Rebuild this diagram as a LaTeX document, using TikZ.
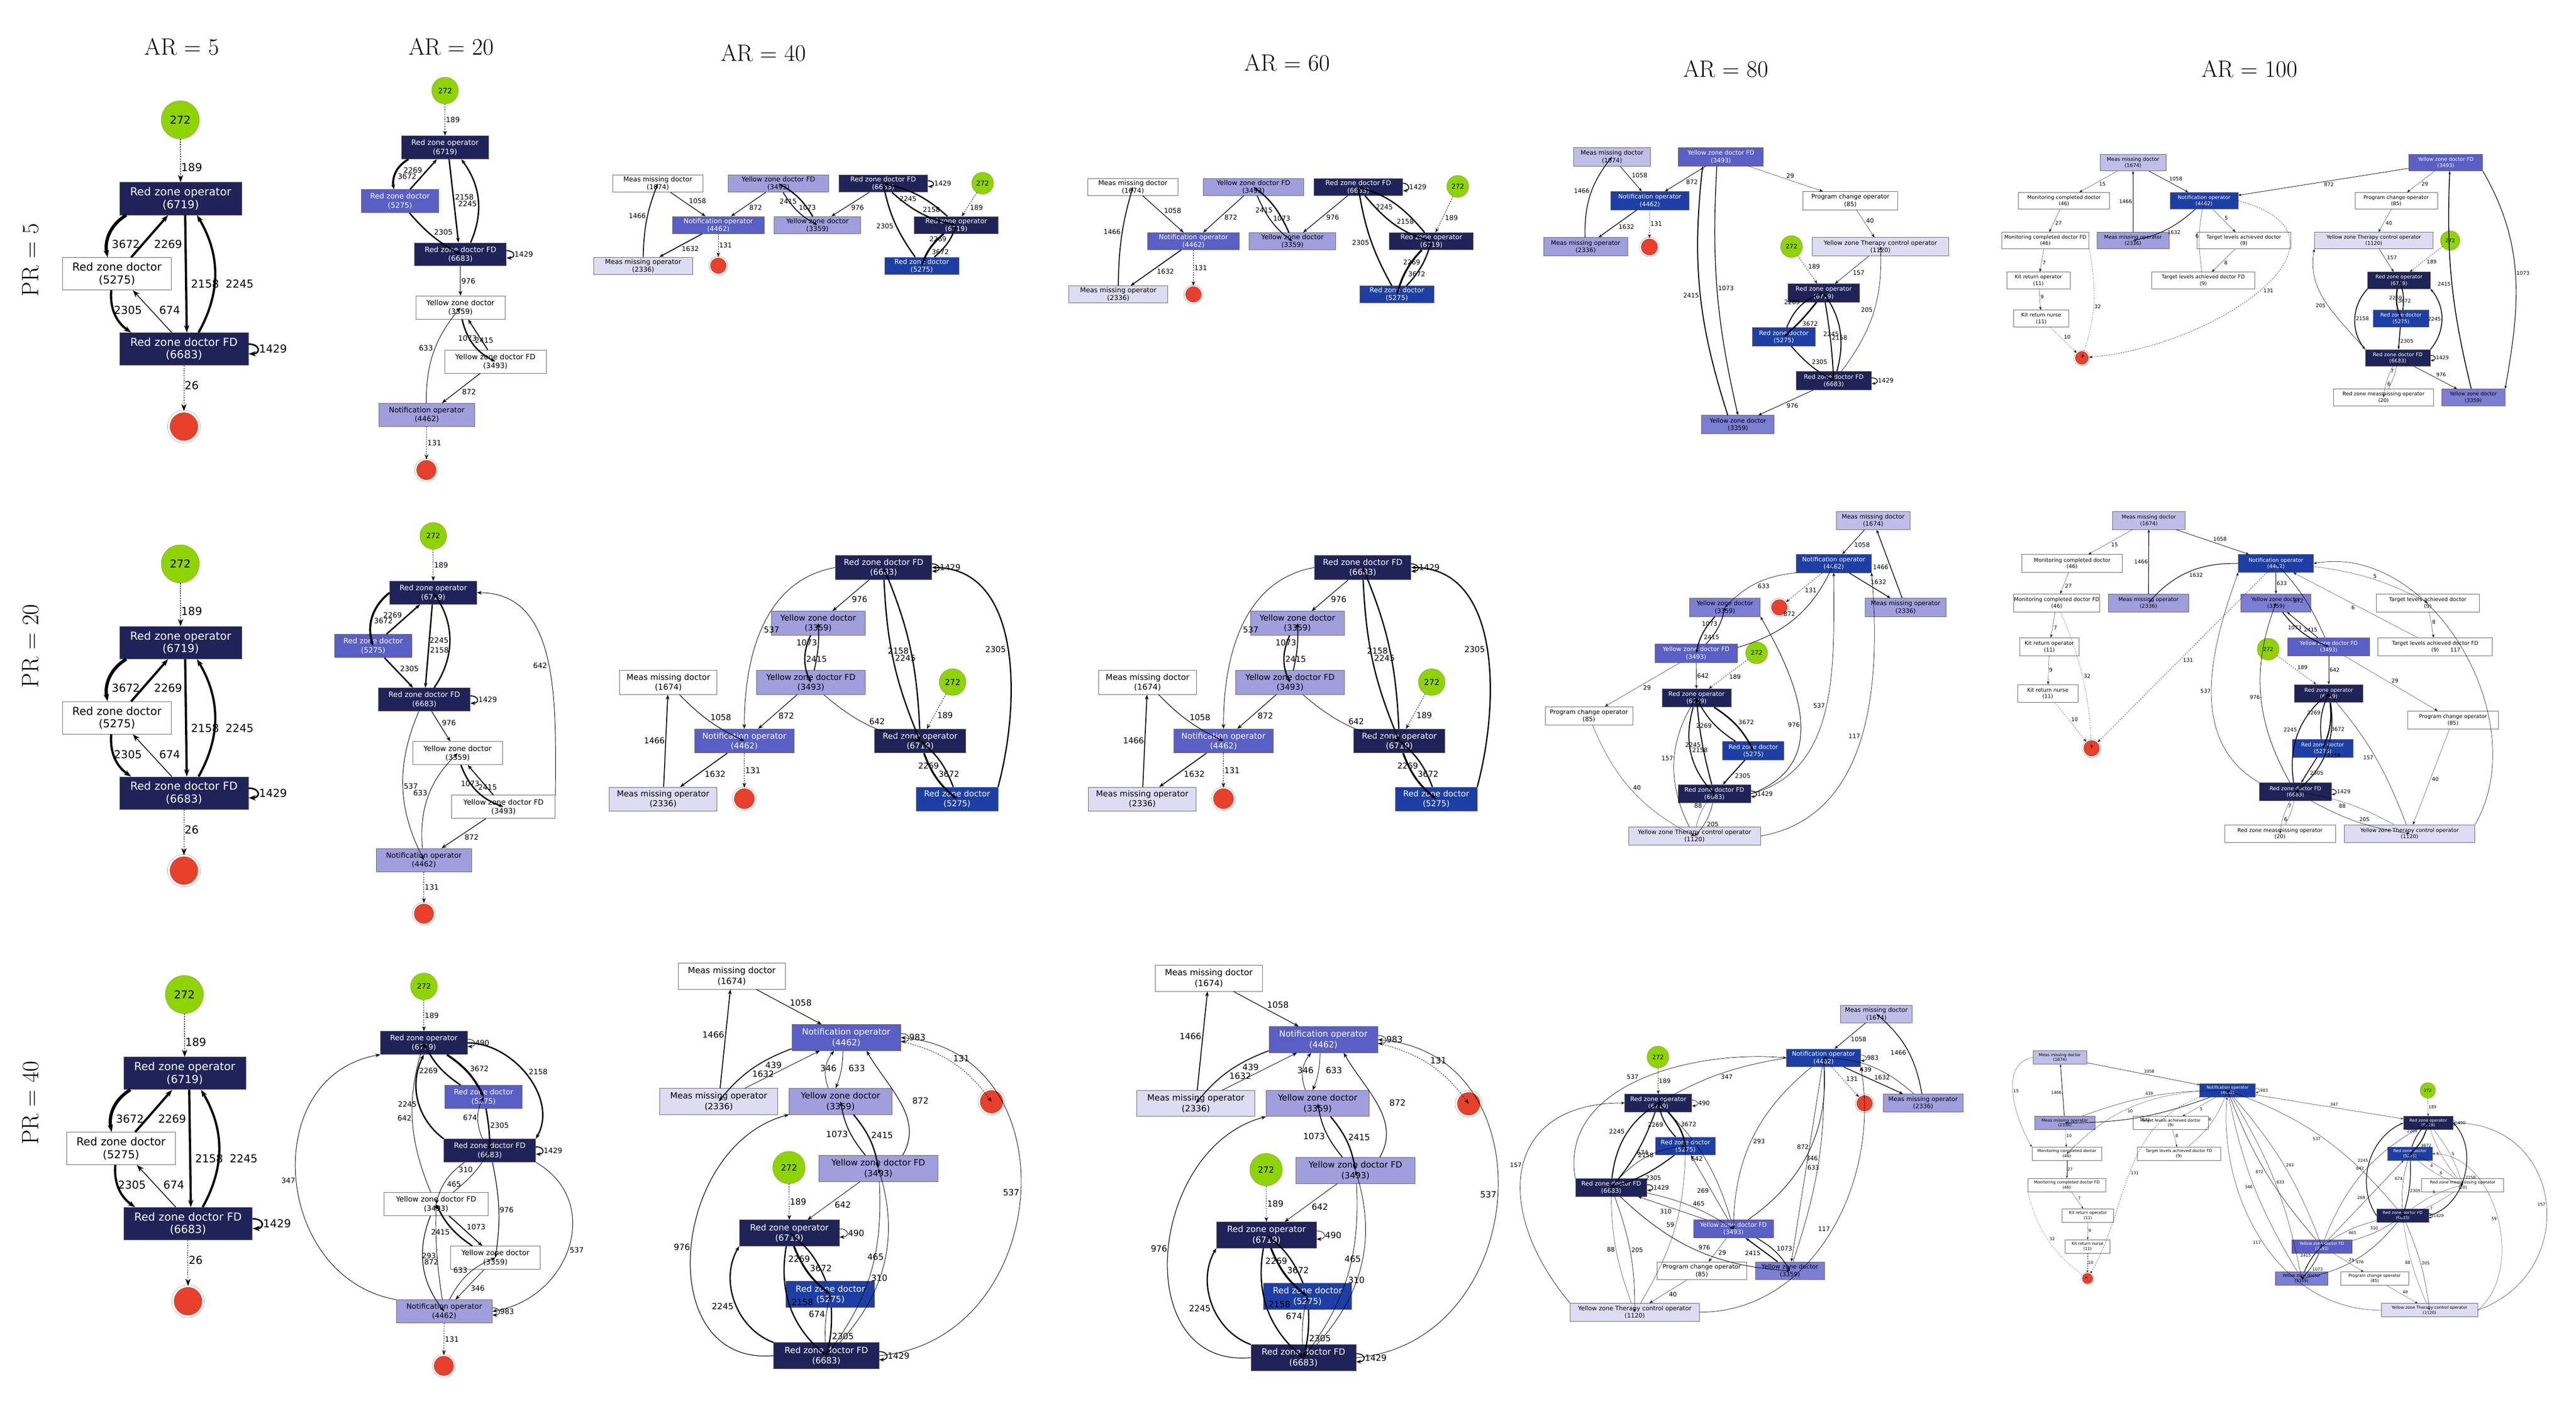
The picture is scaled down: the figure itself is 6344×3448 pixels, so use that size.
\documentclass[tikz,border=0pt]{standalone}
\usepackage{fontspec}
\setsansfont{DejaVu Sans}
\usetikzlibrary{arrows.meta}
\definecolor{cdk}{HTML}{1F2358}
\definecolor{cbl}{HTML}{1D3FA5}
\definecolor{cmd}{HTML}{5A5FC6}
\definecolor{cmdb}{HTML}{7B7ED3}
\definecolor{clt}{HTML}{A09EDC}
\definecolor{cvlt}{HTML}{C0BDE8}
\definecolor{cvvlt}{HTML}{DEDCF3}
\definecolor{cgr}{HTML}{8FD400}
\definecolor{cred}{HTML}{E8402A}
\tikzset{
 bx/.style={rectangle,draw=black!60,line width=1pt,minimum height=\bh pt,align=center,inner sep=1pt,font=\sffamily\fontsize{\fs}{\fb}\selectfont},
 lab/.style={inner sep=1.5pt,font=\sffamily\fontsize{\fs}{\fb}\selectfont},
 e/.style={-{Stealth[length=\ahl pt,width=\ahw pt]},line width=0.8*\lw pt},
 ta/.style={line width=0.5*\lw pt}, tb/.style={line width=0.8*\lw pt},
 tc/.style={line width=1.1*\lw pt}, td/.style={line width=1.6*\lw pt},
 te/.style={line width=2.3*\lw pt}, tf/.style={line width=3.3*\lw pt},
 kdk/.style={fill=cdk,text=white}, kbl/.style={fill=cbl,text=white},
 kmd/.style={fill=cmd,text=white}, kmdb/.style={fill=cmdb},
 klt/.style={fill=clt}, kvlt/.style={fill=cvlt}, kvvlt/.style={fill=cvvlt},
 kw/.style={fill=white},
 ttl/.style={font=\fontsize{58}{60}\selectfont}
}
\newcommand\Pset[7]{\def\bh{#1}\def\fs{#2}\def\fb{#3}\def\lw{#4}\def\ahl{#5}\def\ahw{#6}\def\ls{#7}}
\newcommand\Bx[5]{\node[bx,#4,minimum width=#3pt] (#1) at (#2) {#5};}
\newcommand\St[3]{\node[circle,draw=black!60,fill=cgr,minimum size=2*#3pt,inner sep=0pt,font=\sffamily\fontsize{\fs}{\fb}\selectfont] (#1) at (#2) {272};}
\newcommand\Ex[3]{\node[circle,draw=black!70,fill=cred,double=white,double distance=0.12*#3pt,minimum size=1.7*#3pt,inner sep=0pt] (#1) at (#2) {};}
\newcommand\Ed[5][]{\draw[e,#1] (#2) to[#5] node[lab,auto]{#4} (#3);}
\newcommand\LP[3][]{\draw[e,#1] ([yshift=\ls pt]#2.east) .. controls +(2.5*\ls,0) and +(2.5*\ls,0) .. ([yshift=-\ls pt]#2.east) node[lab,right,pos=.5]{#3};}
\newcommand\RZO{Red zone operator\\(6719)}
\newcommand\RZD{Red zone doctor\\(5275)}
\newcommand\RFD{Red zone doctor FD\\(6683)}
\newcommand\YZD{Yellow zone doctor\\(3359)}
\newcommand\YFD{Yellow zone doctor FD\\(3493)}
\newcommand\NOP{Notification operator\\(4462)}
\newcommand\MMD{Meas missing doctor\\(1674)}
\newcommand\MMO{Meas missing operator\\(2336)}
\newcommand\PCO{Program change operator\\(85)}
\newcommand\YTC{Yellow zone Therapy control operator\\(1120)}
\newcommand\MCD{Monitoring completed doctor\\(46)}
\newcommand\MCF{Monitoring completed doctor FD\\(46)}
\newcommand\TLA{Target levels achieved doctor\\(9)}
\newcommand\TLF{Target levels achieved doctor FD\\(9)}
\newcommand\KRO{Kit return operator\\(11)}
\newcommand\KRN{Kit return nurse\\(11)}
\newcommand\RZM{Red zone measmissing operator\\(20)}

\newcommand\panelA{%
\St{s}{444,295}{47}
\Bx{rzo}{445,489}{301}{kdk}{\RZO}
\Bx{rzd}{288,674}{267}{kw}{\RZD}
\Bx{fd}{453,859}{317}{kdk}{\RFD}
\Ex{end}{453,1050}{44}
\draw[e,dashed,tb] (s) -- (rzo);
\draw[e,tf] ([xshift=-134pt]rzo.south) to[bend right=35] ([xshift=-23pt]rzd.north);
\draw[e,te] ([xshift=35pt]rzd.north) -- ([xshift=-31pt]rzo.south);
\draw[e,te] ([xshift=11pt]rzo.south) -- ([xshift=7pt]fd.north);
\draw[e,te] ([xshift=36pt]fd.north) to[bend right=30] ([xshift=40pt]rzo.south);
\draw[e,te] ([xshift=-14pt]rzd.south) to[bend right=30] ([xshift=-130pt]fd.north);
\draw[e,tb] ([xshift=-30pt]fd.north) -- ([xshift=39pt]rzd.south);
\LP[td]{fd}{1429}
\draw[e,dashed,ta] (fd) -- (end);
\node[lab] at (472,412) {189};
\node[lab] at (310,601) {3672};
\node[lab] at (414,601) {2269};
\node[lab] at (505,699) {2158};
\node[lab] at (590,699) {2245};
\node[lab] at (315,764) {2305};
\node[lab] at (418,764) {674};
\node[lab] at (472,949) {26};
}

\newcommand\panelC{%
\Bx{mmd}{1620,452}{221}{kw}{\MMD}
\Bx{yfd}{1917,452}{247}{klt}{\YFD}
\Bx{fd}{2175,452}{219}{kdk}{\RFD}
\St{s}{2420,451}{27}
\Bx{no}{1769,554}{226}{kmd}{\NOP}
\Bx{yzd}{2013,554}{213}{klt}{\YZD}
\Bx{rzo}{2355,554}{207}{kdk}{\RZO}
\Bx{mmo}{1584,654}{244}{kvvlt}{\MMO}
\Ex{end}{1769,654}{25}
\Bx{rzd}{2270,654}{183}{kbl}{\RZD}
\Ed[tc]{mmd}{no}{1058}{}
\Ed[tc]{yfd}{no}{872}{}
\Ed[td]{yfd}{yzd}{1073}{bend right=15}
\Ed[te]{yzd}{yfd}{2415}{bend right=15}
\Ed[tc]{fd}{yzd}{976}{}
\LP[td]{fd}{1429}
\Ed[te]{rzo}{fd}{2245}{bend right=15}
\Ed[te]{fd}{rzo}{2158}{bend right=15}
\Ed[dashed,tb]{s}{rzo}{189}{}
\Ed[td]{no}{mmo}{1632}{}
\Ed[td]{mmo}{mmd}{1466}{bend left=10}
\Ed[dashed,tb]{no}{end}{131}{}
\Ed[te]{rzd}{fd}{2305}{bend left=12}
\Ed[tf]{rzo}{rzd}{3672}{bend right=15}
\Ed[te]{rzd}{rzo}{2269}{bend right=15}
}

\newcommand\panelCb{%
\Bx{fd}{2176,1397}{237}{kdk}{\RFD}
\Bx{yzd}{2015,1534}{231}{klt}{\YZD}
\Bx{yfd}{1997,1680}{268}{klt}{\YFD}
\Bx{mmd}{1646,1680}{240}{kw}{\MMD}
\St{s}{2346,1679}{33}
\Bx{no}{1833,1824}{245}{kmd}{\NOP}
\Bx{rzo}{2266,1824}{225}{kdk}{\RZO}
\Bx{mmo}{1633,1967}{265}{kvvlt}{\MMO}
\Ex{end}{1833,1966}{32}
\Bx{rzd}{2357,1967}{201}{kbl}{\RZD}
\LP[td]{fd}{1429}
\Ed[tc]{fd}{yzd}{976}{}
\Ed[te]{yzd}{yfd}{2415}{bend right=25}
\Ed[td]{yfd}{yzd}{1073}{bend right=8}
\Ed[tb]{fd.west}{no.north}{537}{out=190,in=90}
\Ed[te]{fd}{rzo}{2245}{bend right=10}
\Ed[te]{rzo}{fd}{2158}{bend right=10}
\Ed[tc]{yfd}{no}{872}{}
\Ed[tb]{yfd}{rzo}{642}{bend right=15}
\Ed[tc]{mmd}{no}{1058}{bend right=10}
\Ed[td]{mmo}{mmd}{1466}{}
\Ed[td]{no}{mmo}{1632}{}
\Ed[dashed,tb]{no}{end}{131}{}
\Ed[dashed,tb]{s}{rzo}{189}{}
\Ed[tf]{rzo}{rzd}{3672}{bend right=15}
\Ed[te]{rzd}{rzo}{2269}{bend right=15}
\Ed[te]{rzd.north east}{fd.east}{2305}{out=75,in=0}
}

\newcommand\panelCc{%
\Bx{mmd}{1802,2403}{263}{kw}{\MMD}
\Bx{no}{2084,2554}{268}{kmd}{\NOP}
\Ex{end}{2442,2712}{36}
\Bx{mmo}{1770,2711}{291}{kvvlt}{\MMO}
\Bx{yzd}{2070,2711}{253}{klt}{\YZD}
\Bx{yfd}{2163,2876}{293}{klt}{\YFD}
\St{s}{1943,2874}{40}
\Bx{rzo}{1944,3035}{246}{kdk}{\RZO}
\Bx{rzd}{2045,3186}{218}{kbl}{\RZD}
\Bx{fd}{2035,3337}{259}{kdk}{\RFD}
\Ed[tc]{mmd}{no}{1058}{}
\Ed[td]{mmo}{mmd}{1466}{}
\Ed[td]{no}{mmo}{1632}{bend right=15}
\Ed[tb]{mmo}{no}{439}{}
\draw[e,tb] ([xshift=-30pt]yzd.north) to[bend left=30] ([xshift=-30pt]no.south);
\draw[e,tb] ([xshift=-8pt]no.south) to[bend left=10] ([xshift=-12pt]yzd.north);
\node[lab] at (2040,2630) {346};
\node[lab] at (2110,2630) {633};
\LP[tb]{no}{983}
\Ed[dashed,tb]{no}{end}{131}{bend left=20}
\draw[e,tc] ([xshift=60pt]yfd.north) to[out=60,in=-60] ([xshift=50pt]no.south);
\node[lab,anchor=west] at (2245,2709) {872};
\Ed[tb]{fd.east}{no.east}{537}{out=5,in=-5,looseness=1.4}
\Ed[tc]{fd.west}{yzd.south west}{976}{out=185,in=-165,looseness=1.3}
\Ed[te]{yzd}{yfd}{2415}{bend left=15}
\Ed[td]{yfd}{yzd}{1073}{bend left=15}
\Ed[tb]{yfd}{rzo}{642}{}
\Ed[dashed,tb]{s}{rzo}{189}{}
\LP[tb]{rzo}{490}
\Ed[tf]{rzo}{rzd}{3672}{bend right=15}
\Ed[te]{rzd}{rzo}{2269}{bend right=15}
\Ed[te]{fd.north west}{rzo.south west}{2245}{bend left=50}
\Ed[te]{rzo}{fd}{2158}{bend right=30}
\Ed[te]{rzd}{fd}{2305}{bend left=8}
\Ed[tb]{fd}{rzd}{674}{bend left=8}
\Ed[tb]{yfd}{fd}{310}{bend left=20}
\Ed[tb]{fd}{yfd}{465}{bend right=30}
\LP[td]{fd}{1429}
}

\begin{document}
\begin{tikzpicture}[x=1pt,y=-1pt]
\useasboundingbox[fill=white] (0,0) rectangle (6344,3448);
% titles
\node[ttl] at (448,115) {AR = 5};
\node[ttl] at (1111,115) {AR = 20};
\node[ttl] at (1880,130) {AR = 40};
\node[ttl] at (3170,155) {AR = 60};
\node[ttl] at (4250,170) {AR = 80};
\node[ttl] at (5540,170) {AR = 100};
\node[ttl,rotate=90] at (75,640) {PR = 5};
\node[ttl,rotate=90] at (75,1590) {PR = 20};
\node[ttl,rotate=90] at (75,2715) {PR = 40};

% ---------- AR = 5 ----------
\begin{scope}[name prefix=A-]\Pset{80}{27}{31}{2.4}{18}{13}{12}\panelA\end{scope}
\begin{scope}[name prefix=A2-,shift={(0,1093)}]\Pset{80}{27}{31}{2.4}{18}{13}{12}\panelA\end{scope}
\begin{scope}[name prefix=A3-,shift={(10,2153)}]\Pset{80}{27}{31}{2.4}{18}{13}{12}\panelA\end{scope}

% ---------- AR = 20 PR = 5 ----------
\begin{scope}[name prefix=B-]\Pset{57}{18}{22}{1.5}{12}{9}{9}
\St{s}{1096,223}{33}
\Bx{rzo}{1096,363}{214}{kdk}{\RZO}
\Bx{rzd}{985,495}{191}{kmd}{\RZD}
\Bx{fd}{1134,626}{226}{kdk}{\RFD}
\Bx{yzd}{1134,757}{219}{kw}{\YZD}
\Bx{yfd}{1220,890}{250}{kw}{\YFD}
\Bx{no}{1051,1021}{235}{klt}{\NOP}
\Ex{end}{1050,1157}{31}
\Ed[dashed,tb]{s}{rzo}{189}{}
\Ed[tf]{[xshift=-90pt]rzo.south}{[xshift=-15pt]rzd.north}{3672}{bend right=35}
\Ed[te]{[xshift=25pt]rzd.north}{[xshift=-20pt]rzo.south}{2269}{}
\Ed[te]{[xshift=10pt]rzo.south}{[xshift=-5pt]fd.north}{2158}{}
\Ed[te]{[xshift=25pt]fd.north}{[xshift=40pt]rzo.south}{2245}{bend right=30}
\Ed[te]{rzd}{fd}{2305}{bend right=10}
\LP[td]{fd}{1429}
\Ed[tc]{fd}{yzd}{976}{}
\Ed[te]{yzd}{yfd}{2415}{bend right=25}
\Ed[td]{yfd}{yzd}{1073}{}
\Ed[tc]{yfd}{no}{872}{}
\Ed[tb]{no}{yzd}{633}{bend left=20}
\Ed[dashed,tb]{no}{end}{131}{}
\end{scope}

% ---------- AR = 20 PR = 20 ----------
\begin{scope}[name prefix=B2-]\Pset{57}{18}{22}{1.5}{12}{9}{9}
\St{s}{1067,1319}{33}
\Bx{rzo}{1067,1459}{214}{kdk}{\RZO}
\Bx{rzd}{919,1590}{191}{kmd}{\RZD}
\Bx{fd}{1045,1722}{226}{kdk}{\RFD}
\Bx{yzd}{1127,1854}{221}{kw}{\YZD}
\Bx{yfd}{1240,1986}{255}{kw}{\YFD}
\Bx{no}{1044,2117}{234}{klt}{\NOP}
\Ex{end}{1044,2249}{31}
\Ed[dashed,tb]{s}{rzo}{189}{}
\Ed[tf]{rzo.west}{rzd}{3672}{bend right=35}
\Ed[te]{rzd}{rzo}{2269}{}
\Ed[te]{rzo}{fd}{2158}{}
\Ed[te]{fd}{rzo}{2245}{bend right=35}
\Ed[te]{rzd}{fd}{2305}{}
\LP[td]{fd}{1429}
\Ed[tc]{fd}{yzd}{976}{}
\Ed[tb]{fd}{no}{537}{bend right=25}
\Ed[te]{yzd}{yfd}{2415}{bend right=25}
\Ed[td]{yfd}{yzd}{1073}{}
\Ed[tb]{yfd.north east}{rzo.east}{642}{out=90,in=0}
\Ed[tc]{yfd}{no}{872}{}
\Ed[tb]{no}{yzd}{633}{bend left=25}
\Ed[dashed,tb]{no}{end}{131}{}
\end{scope}

% ---------- AR = 20 PR = 40 ----------
\begin{scope}[name prefix=B3-]\Pset{57}{18}{22}{1.5}{12}{9}{9}
\St{s}{1044,2428}{33}
\Bx{rzo}{1044,2567}{214}{kdk}{\RZO}
\Bx{rzd}{1191,2700}{190}{kmd}{\RZD}
\Bx{fd}{1206,2832}{226}{kdk}{\RFD}
\Bx{yfd}{1074,2964}{256}{kw}{\YFD}
\Bx{yzd}{1220,3096}{220}{kw}{\YZD}
\Bx{no}{1094,3228}{236}{klt}{\NOP}
\Ex{end}{1093,3362}{31}
\Ed[dashed,tb]{s}{rzo}{189}{}
\LP[tb]{rzo}{490}
\Ed[tf]{rzo}{rzd}{3672}{bend left=15}
\Ed[te]{rzd}{rzo}{2269}{bend left=15}
\Ed[te]{rzo.east}{fd.north east}{2158}{out=0,in=60}
\Ed[te]{fd.north west}{rzo.south}{2245}{bend left=40}
\Ed[te]{rzd}{fd}{2305}{bend left=5}
\Ed[tb]{fd}{rzd}{674}{bend left=25}
\LP[td]{fd}{1429}
\Ed[tb]{fd}{yfd}{465}{bend right=20}
\Ed[tb]{yfd}{fd}{310}{bend right=10}
\Ed[tb]{yfd}{rzo}{642}{bend left=20}
\Ed[tc]{fd}{yzd}{976}{bend left=10}
\Ed[tb]{fd.south east}{no.east}{537}{out=-30,in=10,looseness=1.3}
\Ed[td]{yfd}{yzd}{1073}{}
\Ed[te]{yzd}{yfd}{2415}{bend left=15}
\Ed[tc]{yfd}{no}{872}{bend right=30}
\Ed[tb]{no}{yfd}{293}{bend left=5}
\Ed[tb]{no}{yzd}{633}{bend left=20}
\Ed[tb]{yzd}{no}{346}{}
\LP[tb]{no}{983}
\Ed[tb]{no.north west}{rzo.south west}{347}{out=170,in=-170,looseness=1.3}
\Ed[dashed,tb]{no}{end}{131}{}
\end{scope}

% ---------- AR = 40 ----------
\begin{scope}[name prefix=C-]\Pset{42}{16.5}{19}{1.4}{11}{8}{7}\panelC\end{scope}
\begin{scope}[name prefix=C2-]\Pset{59}{20}{24}{1.4}{12}{9}{9}\panelCb\end{scope}
\begin{scope}[name prefix=C3-]\Pset{64}{21}{26}{1.4}{12}{9}{10}\panelCc\end{scope}
% ---------- AR = 60 ----------
\begin{scope}[name prefix=D-,shift={(1170,-132)},yscale=1.31]\Pset{42}{16.5}{19}{1.4}{11}{8}{7}\panelC\end{scope}
\begin{scope}[name prefix=D2-,shift={(1180,0)}]\Pset{59}{20}{24}{1.4}{12}{9}{9}\panelCb\end{scope}
\begin{scope}[name prefix=D3-,shift={(1175,5)}]\Pset{64}{21}{26}{1.4}{12}{9}{10}\panelCc\end{scope}

% ---------- AR = 80 PR = 5 ----------
\begin{scope}[name prefix=E-]\Pset{45}{15}{18}{1.1}{9}{7}{7}
\Bx{mmd}{3970,386}{188}{kvlt}{\MMD}
\Bx{yfd}{4238,386}{209}{kmd}{\YFD}
\Bx{no}{4063,494}{193}{kbl}{\NOP}
\Bx{pco}{4557,494}{234}{kw}{\PCO}
\Bx{mmo}{3905,607}{206}{klt}{\MMO}
\Ex{end}{4062,608}{26}
\St{s}{4412,607}{27}
\Bx{ytc}{4631,607}{336}{kvvlt}{\YTC}
\Bx{rzo}{4491,721}{176}{kdk}{\RZO}
\Bx{rzd}{4393,829}{156}{kbl}{\RZD}
\Bx{fd}{4516,937}{186}{kdk}{\RFD}
\Bx{yzd}{4280,1045}{179}{kmdb}{\YZD}
\Ed[tc]{mmd}{no}{1058}{}
\Ed[tc]{yfd}{no}{872}{}
\Ed[ta]{yfd}{pco}{29}{}
\Ed[td]{mmo}{mmd}{1466}{bend left=20}
\Ed[td]{no}{mmo}{1632}{}
\Ed[dashed,tb]{no}{end}{131}{}
\Ed[te]{[xshift=-25pt]yzd.north}{[xshift=-45pt]yfd.south}{2415}{bend left=12}
\Ed[td]{[xshift=-10pt]yfd.south}{yzd.north}{1073}{bend left=-8}
\Ed[ta]{pco}{ytc}{40}{}
\Ed[dashed,tb]{s}{rzo}{189}{}
\Ed[tb]{ytc}{rzo}{157}{}
\Ed[te]{rzd}{rzo}{2269}{bend left=25}
\Ed[tf]{rzo}{rzd}{3672}{bend left=5}
\Ed[te]{rzo}{fd}{2158}{bend left=3}
\Ed[te]{fd}{rzo}{2245}{bend right=25}
\Ed[tb]{fd}{ytc}{205}{bend right=20}
\Ed[te]{rzd}{fd}{2305}{bend right=10}
\LP[td]{fd}{1429}
\Ed[tc]{fd}{yzd}{976}{}
\end{scope}

% ---------- AR = 80 PR = 20 ----------
\begin{scope}[name prefix=E2-]\Pset{45}{15}{18}{1.1}{9}{7}{7}
\Bx{mmd}{4613,1281}{181}{kvlt}{\MMD}
\Bx{no}{4516,1387}{185}{kbl}{\NOP}
\Bx{yzd}{4248,1495}{174}{kmdb}{\YZD}
\Ex{end}{4382,1495}{25}
\Bx{mmo}{4693,1495}{200}{klt}{\MMO}
\Bx{yfd}{4177,1608}{203}{kmd}{\YFD}
\St{s}{4326,1607}{27}
\Bx{rzo}{4178,1718}{170}{kdk}{\RZO}
\Bx{pco}{3913,1762}{216}{kw}{\PCO}
\Bx{rzd}{4318,1848}{151}{kbl}{\RZD}
\Bx{fd}{4222,1954}{179}{kdk}{\RFD}
\Bx{ytc}{4173,2058}{325}{kvvlt}{\YTC}
\Ed[tc]{mmd}{no}{1058}{}
\Ed[td]{mmo}{mmd}{1466}{}
\Ed[td]{no}{mmo}{1632}{}
\Ed[tb]{no.south west}{yzd}{633}{bend right=20}
\Ed[dashed,tb]{no}{end}{131}{}
\Ed[tc]{yfd}{no}{872}{bend right=25}
\Ed[te]{yzd}{yfd}{2415}{bend right=15}
\Ed[td]{yfd}{yzd}{1073}{bend right=15}
\Ed[ta]{yfd}{pco}{29}{}
\Ed[tb]{yfd}{rzo}{642}{}
\Ed[dashed,tb]{s}{rzo}{189}{}
\Ed[tc]{fd.east}{yzd.south east}{976}{out=20,in=-60,looseness=1.2}
\Ed[tb]{fd.east}{no.south}{537}{out=15,in=-90}
\Ed[tb]{ytc.east}{no.south east}{117}{out=10,in=-85}
\Ed[tf]{rzo}{rzd}{3672}{bend left=15}
\Ed[te]{rzd}{rzo}{2269}{bend left=15}
\Ed[te]{rzo}{fd}{2158}{bend right=30}
\Ed[te]{fd}{rzo}{2245}{bend left=5}
\Ed[te]{rzd}{fd}{2305}{}
\LP[td]{fd}{1429}
\Ed[ta]{pco}{ytc}{40}{bend right=20}
\Ed[tb]{ytc}{rzo}{157}{bend left=30}
\Ed[ta]{ytc}{fd}{88}{bend left=15}
\Ed[tb]{fd}{ytc}{205}{bend left=15}
\end{scope}

% ---------- AR = 80 PR = 40 ----------
\begin{scope}[name prefix=E3-]\Pset{44}{15}{18}{1.1}{9}{7}{7}
\Bx{mmd}{4621,2496}{177}{kvlt}{\MMD}
\St{s}{4083,2602}{27}
\Bx{no}{4491,2604}{182}{kbl}{\NOP}
\Bx{rzo}{4084,2715}{165}{kdk}{\RZO}
\Ex{end}{4592,2716}{25}
\Bx{mmo}{4736,2715}{196}{klt}{\MMO}
\Bx{rzd}{4151,2821}{147}{kbl}{\RZD}
\Bx{fd}{3968,2923}{176}{kdk}{\RFD}
\Bx{yfd}{4269,3025}{197}{kmd}{\YFD}
\Bx{pco}{4191,3128}{221}{kw}{\PCO}
\Bx{yzd}{4408,3128}{170}{kmdb}{\YZD}
\Bx{ytc}{4026,3230}{318}{kvvlt}{\YTC}
\Ed[tc]{mmd}{no}{1058}{}
\Ed[td]{mmo}{mmd}{1466}{bend right=20}
\Ed[td]{no}{mmo}{1632}{}
\Ed[tb]{mmo}{no}{439}{bend right=20}
\LP[tb]{no}{983}
\Ed[dashed,tb]{no}{end}{131}{}
\Ed[dashed,tb]{s}{rzo}{189}{}
\Ed[tb]{no.west}{rzo}{347}{bend right=10}
\Ed[tb]{fd.north west}{no.west}{537}{out=100,in=175}
\LP[tb]{rzo}{490}
\Ed[tf]{rzo}{rzd}{3672}{bend left=15}
\Ed[te]{rzd}{rzo}{2269}{bend left=15}
\Ed[te]{fd}{rzo}{2245}{bend left=25}
\Ed[te]{rzo}{fd}{2158}{bend left=10}
\Ed[te]{rzd}{fd}{2305}{bend left=10}
\Ed[tb]{fd}{rzd}{674}{bend left=20}
\LP[td]{fd}{1429}
\Ed[tb]{yfd}{rzo}{642}{bend right=15}
\Ed[tb]{yfd}{rzd}{269}{}
\Ed[tb]{no}{yfd}{293}{bend right=25}
\Ed[tc]{yfd}{no}{872}{bend right=30}
\Ed[tb]{yzd}{no}{346}{bend right=10}
\Ed[tb]{no}{yzd}{633}{}
\Ed[tb]{ytc.east}{no.south east}{117}{out=0,in=-80}
\Ed[tb]{fd}{yfd}{465}{bend left=10}
\Ed[tb]{yfd}{fd}{310}{}
\Ed[tc]{fd}{yzd}{976}{bend right=20}
\Ed[td]{yfd}{yzd}{1073}{bend left=15}
\Ed[te]{yzd}{yfd}{2415}{}
\Ed[ta]{yfd}{pco}{29}{}
\Ed[ta]{pco}{ytc}{40}{}
\Ed[ta]{ytc}{fd}{88}{bend left=10}
\Ed[tb]{fd}{ytc}{205}{bend left=10}
\Ed[ta]{ytc}{rzd}{59}{bend right=15}
\Ed[tb]{ytc.north west}{rzo.west}{157}{out=130,in=180,looseness=1.5}
\end{scope}

% ---------- AR = 100 PR = 5 ----------
\begin{scope}[name prefix=F-]\Pset{41}{12.5}{15.5}{0.9}{8}{6}{6}
\Bx{mmd}{5253,400}{163}{kvlt}{\MMD}
\Bx{yfd}{6023,400}{182}{kmd}{\YFD}
\Bx{mcd}{5083,494}{225}{kw}{\MCD}
\Bx{no}{5428,494}{167}{kbl}{\NOP}
\Bx{pco}{5901,494}{203}{kw}{\PCO}
\Bx{mcf}{5037,592}{215}{kw}{\MCF}
\Bx{mmo}{5253,592}{178}{klt}{\MMO}
\Bx{tla}{5526,592}{230}{kw}{\TLA}
\Bx{ytc}{5846,592}{292}{kvvlt}{\YTC}
\St{s}{6034,592}{24}
\Bx{kro}{5020,690}{156}{kw}{\KRO}
\Bx{tlf}{5426,690}{254}{kw}{\TLF}
\Bx{rzo}{5908,690}{154}{kdk}{\RZO}
\Bx{krn}{5027,784}{135}{kw}{\KRN}
\Bx{rzd}{5913,784}{137}{kbl}{\RZD}
\Ex{end}{5127,881}{21}
\Bx{fd}{5905,881}{160}{kdk}{\RFD}
\Bx{rzm}{5870,978}{247}{kw}{\RZM}
\Bx{yzd}{6091,978}{156}{kmdb}{\YZD}
\Ed[ta]{mmd}{mcd}{15}{}
\Ed[tc]{mmd}{no}{1058}{}
\Ed[td]{mmo}{mmd}{1466}{}
\Ed[td]{no}{mmo}{1632}{bend left=15}
\Ed[tc]{yfd}{no}{872}{}
\Ed[ta]{yfd}{pco}{29}{}
\Ed[ta]{mcd}{mcf}{27}{}
\Ed[ta]{no}{tla}{5}{}
\Ed[ta]{tlf}{no}{6}{bend left=10}
\Ed[dashed,tb]{no.east}{end}{131}{out=-15,in=5,looseness=1.6}
\Ed[ta]{pco}{ytc}{40}{}
\Ed[ta]{mcf}{kro}{7}{}
\Ed[dashed,ta]{mcf.south east}{end}{32}{bend left=15}
\Ed[ta]{tla}{tlf}{8}{}
\Ed[tb]{ytc}{rzo}{157}{}
\Ed[dashed,tb]{s}{rzo}{189}{}
\Ed[tb]{fd.north west}{ytc.south west}{205}{out=130,in=-100}
\Ed[tf]{rzo}{rzd}{3672}{bend right=15}
\Ed[te]{rzd}{rzo}{2269}{bend right=15}
\Ed[te]{rzo.south west}{fd.north west}{2158}{bend right=40}
\Ed[te]{fd.north east}{rzo.south east}{2245}{bend right=40}
\Ed[te]{rzd}{fd}{2305}{}
\LP[td]{fd}{1429}
\Ed[ta]{kro}{krn}{9}{}
\Ed[dashed,ta]{krn}{end}{10}{}
\Ed[ta]{fd}{rzm}{6}{bend right=10}
\Ed[ta]{rzm}{fd}{7}{bend right=10}
\Ed[tc]{fd}{yzd}{976}{}
\Ed[te]{[xshift=-5pt]yzd.north}{[xshift=10pt]yfd.south}{2415}{bend left=8}
\Ed[td]{yfd.south east}{yzd.north east}{1073}{out=-60,in=80}
\end{scope}

% ---------- AR = 100 PR = 20 ----------
\begin{scope}[name prefix=F2-]\Pset{44}{13}{16}{0.9}{8}{6}{6}
\Bx{mmd}{5292,1281}{180}{kvlt}{\MMD}
\Bx{mcd}{5103,1387}{248}{kw}{\MCD}
\Bx{no}{5605,1387}{185}{kbl}{\NOP}
\Bx{mcf}{5065,1484}{212}{kw}{\MCF}
\Bx{mmo}{5291,1484}{198}{klt}{\MMO}
\Bx{yzd}{5605,1484}{172}{kmdb}{\YZD}
\Bx{tla}{5979,1484}{254}{kw}{\TLA}
\Bx{kro}{5047,1592}{146}{kw}{\KRO}
\St{s}{5586,1598}{27}
\Bx{yfd}{5735,1592}{201}{kmd}{\YFD}
\Bx{tlf}{5997,1592}{281}{kw}{\TLF}
\Bx{krn}{5043,1707}{149}{kw}{\KRN}
\Bx{rzo}{5735,1707}{169}{kdk}{\RZO}
\Bx{pco}{6041,1772}{223}{kw}{\PCO}
\Ex{end}{5151,1842}{25}
\Bx{rzd}{5720,1842}{149}{kbl}{\RZD}
\Bx{fd}{5653,1949}{177}{kdk}{\RFD}
\Bx{rzm}{5615,2052}{273}{kw}{\RZM}
\Bx{ytc}{5934,2052}{322}{kvvlt}{\YTC}
\Ed[ta]{mmd}{mcd}{15}{}
\Ed[tc]{mmd}{no}{1058}{}
\Ed[td]{mmo}{mmd}{1466}{}
\Ed[td]{no.west}{mmo}{1632}{bend right=25}
\Ed[ta]{mcd}{mcf}{27}{}
\Ed[tb]{no}{yzd}{633}{}
\Ed[tb]{fd.north west}{no.south west}{537}{out=150,in=-110}
\Ed[tc]{yfd}{no}{872}{bend right=10}
\Ed[ta]{tlf}{no}{6}{}
\Ed[ta]{no}{tla}{5}{bend left=10}
\Ed[tb]{ytc.north east}{no.east}{117}{out=60,in=10}
\Ed[dashed,tb]{no}{end}{131}{}
\Ed[ta]{mcf}{kro}{7}{}
\Ed[dashed,ta]{mcf}{end}{32}{bend left=10}
\Ed[ta]{kro}{krn}{9}{}
\Ed[dashed,ta]{krn}{end}{10}{}
\Ed[te]{yzd}{yfd}{2415}{bend right=15}
\Ed[td]{yfd}{yzd}{1073}{}
\Ed[tc]{fd}{yzd}{976}{bend left=25}
\Ed[ta]{tla}{tlf}{8}{}
\Ed[dashed,tb]{s}{rzo}{189}{}
\Ed[tb]{yfd}{rzo}{642}{}
\Ed[ta]{yfd}{pco}{29}{}
\Ed[te]{fd}{rzo}{2245}{bend left=30}
\Ed[te]{rzo}{fd}{2158}{bend left=30}
\Ed[te]{rzd}{rzo}{2269}{bend left=15}
\Ed[tf]{rzo}{rzd}{3672}{bend left=15}
\Ed[te]{rzd}{fd}{2305}{}
\Ed[tb]{ytc}{rzo}{157}{bend right=10}
\Ed[ta]{pco}{ytc}{40}{}
\LP[td]{fd}{1429}
\Ed[ta]{fd}{rzm}{6}{bend right=10}
\Ed[ta]{rzm}{fd}{7}{bend right=10}
\Ed[tb]{fd}{ytc}{205}{bend right=10}
\Ed[ta]{ytc}{fd}{88}{bend right=10}
\end{scope}

% ---------- AR = 100 PR = 40 ----------
\begin{scope}[name prefix=F3-]\Pset{33}{10}{12.5}{0.7}{6}{4.5}{5}
\Bx{mmd}{5073,2603}{132}{kvlt}{\MMD}
\Bx{no}{5486,2684}{137}{kbl}{\NOP}
\St{s}{5979,2684}{19}
\Bx{mmo}{5085,2764}{149}{klt}{\MMO}
\Bx{tla}{5346,2764}{186}{kw}{\TLA}
\Bx{rzo}{5980,2764}{122}{kdk}{\RZO}
\Bx{mcd}{5090,2840}{172}{kw}{\MCD}
\Bx{tlf}{5366,2840}{206}{kw}{\TLF}
\Bx{rzd}{5935,2840}{110}{kbl}{\RZD}
\Bx{mcf}{5090,2917}{192}{kw}{\MCF}
\Bx{rzm}{6065,2917}{202}{kw}{\RZM}
\Bx{kro}{5142,2992}{127}{kw}{\KRO}
\Bx{fd}{5917,2992}{128}{kdk}{\RFD}
\Bx{krn}{5141,3068}{111}{kw}{\KRN}
\Bx{yfd}{5718,3068}{149}{kmd}{\YFD}
\Ex{end}{5141,3147}{17}
\Bx{yzd}{5668,3147}{129}{kmdb}{\YZD}
\Bx{pco}{5848,3147}{167}{kw}{\PCO}
\Bx{ytc}{5983,3225}{237}{kvvlt}{\YTC}
\Ed[tc]{mmd}{no}{1058}{}
\Ed[td]{mmo}{mmd}{1466}{}
\Ed[ta]{mmd.west}{mcd.north west}{15}{out=190,in=120}
\Ed[tb]{mmo}{no}{439}{bend left=10}
\Ed[td]{no}{mmo}{1632}{bend left=10}
\Ed[ta]{no}{mcd}{10}{bend right=20}
\Ed[ta]{mmo}{mcd}{10}{}
\LP[tb]{no}{983}
\Ed[ta]{no}{tla}{5}{}
\Ed[ta]{tlf}{no}{6}{bend right=15}
\Ed[ta]{tla}{tlf}{8}{}
\Ed[dashed,tb]{no.south west}{end}{131}{out=200,in=60}
\Ed[ta]{mcd}{mcf}{27}{}
\Ed[ta]{mcf}{kro}{7}{}
\Ed[dashed,ta]{mcf.south west}{end}{32}{bend right=20}
\Ed[ta]{kro}{krn}{9}{}
\Ed[dashed,ta]{krn}{end}{10}{}
\Ed[tb]{ytc.west}{no}{117}{out=180,in=-95}
\Ed[tb]{yzd}{no}{346}{bend left=10}
\Ed[tb]{no}{yzd}{633}{bend left=10}
\Ed[tc]{yfd}{no}{872}{bend left=10}
\Ed[tb]{no}{yfd}{293}{bend left=10}
\Ed[tb]{fd}{no}{537}{bend right=15}
\Ed[tb]{no}{rzo}{347}{}
\Ed[tb]{yfd}{rzo}{642}{bend left=20}
\Ed[dashed,tb]{s}{rzo}{189}{}
\LP[tb]{rzo}{490}
\Ed[te]{rzd}{rzo}{2269}{bend left=15}
\Ed[tf]{rzo}{rzd}{3672}{bend left=15}
\Ed[te]{fd.west}{rzo.west}{2245}{bend left=50}
\Ed[te]{rzo.east}{fd.east}{2158}{bend left=60}
\Ed[tb]{yfd}{rzd}{269}{}
\Ed[tb]{fd}{rzd}{674}{bend left=10}
\Ed[te]{rzd}{fd}{2305}{bend left=10}
\Ed[ta]{rzo}{rzm}{5}{bend left=10}
\Ed[ta]{rzm}{rzo}{5}{bend left=10}
\Ed[ta]{rzd}{rzm}{6}{bend right=10}
\Ed[ta]{rzm}{rzd}{4}{bend right=10}
\Ed[ta]{fd}{rzm}{6}{bend left=10}
\Ed[ta]{rzm}{fd}{7}{bend left=10}
\LP[td]{fd}{1429}
\Ed[tb]{fd}{yfd}{465}{bend right=10}
\Ed[tb]{yfd}{fd}{310}{bend right=10}
\Ed[tc]{fd}{yzd}{976}{bend left=20}
\Ed[te]{yzd}{yfd}{2415}{bend left=10}
\Ed[td]{yfd}{yzd}{1073}{bend left=10}
\Ed[ta]{yfd}{pco}{29}{}
\Ed[ta]{pco}{ytc}{40}{}
\Ed[ta]{ytc}{fd}{88}{bend left=8}
\Ed[tb]{fd}{ytc}{205}{bend left=8}
\Ed[ta]{ytc.east}{rzd.east}{59}{out=40,in=0}
\Ed[tb]{ytc.east}{rzo.east}{157}{out=20,in=0,looseness=1.5}
\end{scope}
\end{tikzpicture}
\end{document}
